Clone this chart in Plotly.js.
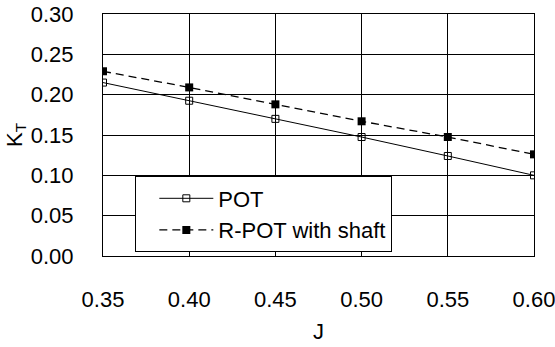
<!DOCTYPE html>
<html>
<head>
<meta charset="utf-8">
<script src="https://cdn.plot.ly/plotly-3.0.1.min.js"></script>
<style>html,body{margin:0;padding:0;background:#fff;}#chart{width:555px;height:347px;}</style>
</head>
<body>
<div id="chart"></div>
<script>
const J = [0.35, 0.40, 0.45, 0.50, 0.55, 0.60];
const KT_POT = [0.215, 0.1925, 0.170, 0.1475, 0.124, 0.100];
const KT_RPOT = [0.229, 0.209, 0.188, 0.167, 0.1475, 0.126];
const seriesNames = ["POT", "R-POT with shaft"];
const yTicks = [0.00, 0.05, 0.10, 0.15, 0.20, 0.25, 0.30];
const xTicks = [0.35, 0.40, 0.45, 0.50, 0.55, 0.60];

const FONT = "Liberation Sans, Arial, sans-serif";

const traces = [
  {
    x: J, y: KT_POT, name: seriesNames[0], type: "scatter", mode: "lines+markers",
    line: {color: "#000", width: 1},
    marker: {symbol: "square-open", size: 7, color: "#000", line: {width: 1, color: "#000"}}
  },
  {
    x: J, y: KT_RPOT, name: seriesNames[1], type: "scatter", mode: "lines+markers",
    line: {color: "#000", width: 1.3, dash: "8px,5px"},
    marker: {symbol: "square", size: 8, color: "#000"}
  }
];

const layout = {
  width: 555, height: 347,
  margin: {l: 103, r: 21, t: 14, b: 91, pad: 0},
  paper_bgcolor: "#fff", plot_bgcolor: "#fff",
  font: {family: FONT, size: 22, color: "#000"},
  showlegend: true,
  legend: {
    x: 0.075, y: 0.1715, xanchor: "left", yanchor: "middle",
    bgcolor: "#fff", bordercolor: "#000", borderwidth: 1,
    font: {family: FONT, size: 22, color: "#000"},
    itemwidth: 54, indentation: 18, tracegroupgap: 0
  },
  xaxis: {
    range: [0.35, 0.60], tickvals: xTicks, ticktext: xTicks.map(v => v.toFixed(2)),
    showgrid: true, gridcolor: "#000", gridwidth: 1,
    showline: true, linecolor: "#000", linewidth: 1, mirror: true,
    ticks: "", ticklabelstandoff: 24, ticklabeloverflow: "allow", zeroline: false,
    title: {text: "J", font: {family: FONT, size: 22}, standoff: 12}
  },
  yaxis: {
    range: [0, 0.30], tickvals: yTicks, ticktext: yTicks.map(v => v.toFixed(2)),
    showgrid: true, gridcolor: "#000", gridwidth: 1,
    showline: true, linecolor: "#000", linewidth: 1, mirror: true,
    ticks: "", ticklabelstandoff: 24, ticklabeloverflow: "allow", zeroline: false,
    title: {text: "K<sub>T</sub>", font: {family: FONT, size: 22}, standoff: 2}
  }
};

Plotly.newPlot("chart", traces, layout, {staticPlot: true, displayModeBar: false});
</script>
</body>
</html>
